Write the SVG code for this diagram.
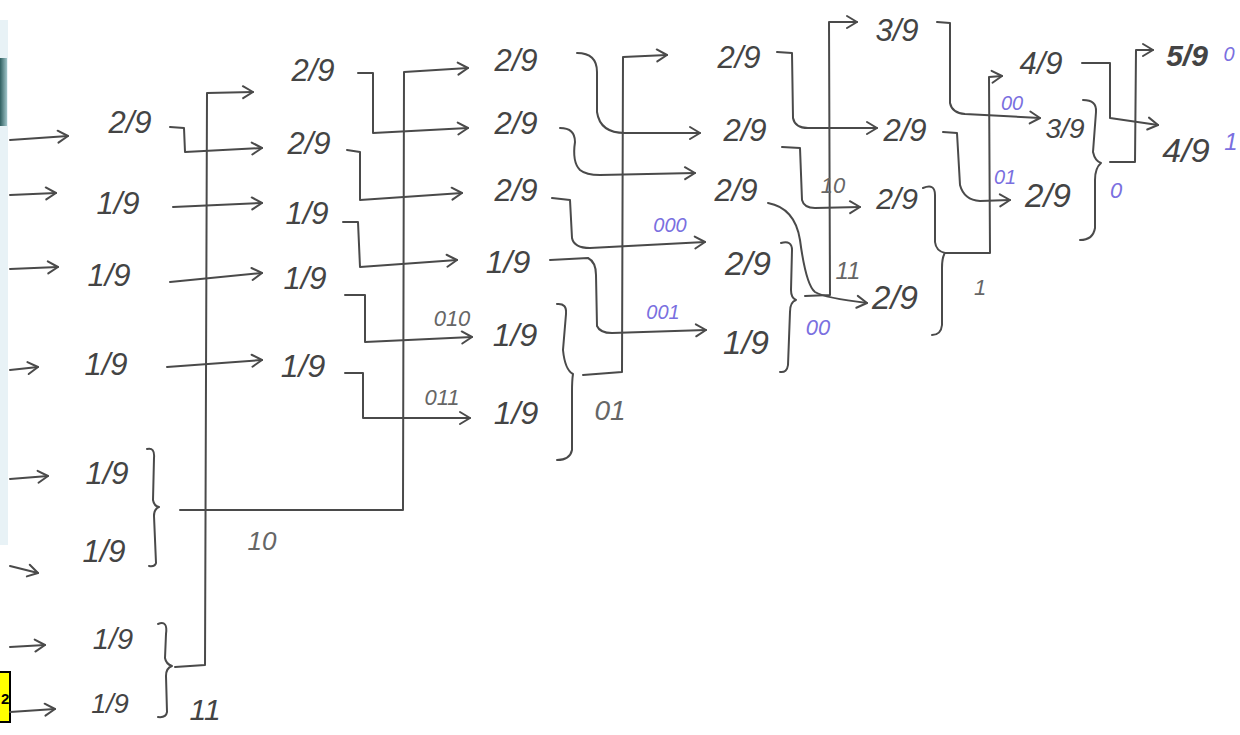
<svg xmlns="http://www.w3.org/2000/svg" width="1240" height="735" viewBox="0 0 1240 735">
<style>
.t{font-family:"Liberation Sans","DejaVu Sans",sans-serif;font-style:italic;fill:#444;text-anchor:middle}
.p{font-family:"Liberation Sans","DejaVu Sans",sans-serif;font-style:italic;fill:#7a6fe0;text-anchor:middle}
.g{font-family:"Liberation Sans","DejaVu Sans",sans-serif;font-style:italic;fill:#666;text-anchor:middle}
.c{fill:none;stroke:#4a4a4a;stroke-width:2;stroke-linejoin:round;stroke-linecap:round}
.a{marker-end:url(#ah)}
</style>
<defs>
<marker id="ah" markerUnits="userSpaceOnUse" markerWidth="16" markerHeight="16" refX="13" refY="8" orient="auto">
<path d="M3,2 L13,8 L3,14" fill="none" stroke="#4a4a4a" stroke-width="2" stroke-linecap="round" stroke-linejoin="round"/>
</marker>
<linearGradient id="edge" x1="0" y1="0" x2="1" y2="0">
<stop offset="0" stop-color="#2f5f60"/>
<stop offset="1" stop-color="#9fc4c8"/>
</linearGradient>
</defs>
<rect width="1240" height="735" fill="#fff"/>
<rect x="0" y="20" width="8" height="525" fill="#e8f2f6"/>
<rect x="0" y="58" width="7" height="68" fill="url(#edge)"/>
<g id="page-tag">
<rect x="-30" y="672" width="40" height="50" fill="#ffff00" stroke="#000" stroke-width="2"/>
<text x="1" y="704" font-family="Liberation Sans,sans-serif" font-size="15" font-weight="bold" fill="#000">2</text>
</g>

<g id="connectors">
<!-- column 0 inputs -->
<path class="c a" d="M10,140 L68,136"/>
<path class="c a" d="M10,195 L56,193"/>
<path class="c a" d="M10,269 L58,267"/>
<path class="c a" d="M10,370 L38,367"/>
<path class="c a" d="M10,479 L48,476"/>
<path class="c a" d="M10,566 L38,573"/>
<path class="c a" d="M10,647 L45,645"/>
<path class="c a" d="M10,712 L55,709"/>
<!-- column 1 -> 2 -->
<path class="c a" d="M170,127 L184,128 L185,152 L262,148"/>
<path class="c a" d="M173,207 L262,203"/>
<path class="c a" d="M170,282 L262,273"/>
<path class="c a" d="M167,367 L262,360"/>
<path class="c a" d="M180,510 L403,510 L404,72 L468,68"/>
<path class="c a" d="M175,667 L205,665 L207,93 L253,92"/>
<!-- column 2 -> 3 -->
<path class="c a" d="M358,73 L373,73 L373,133 L468,128"/>
<path class="c a" d="M347,150 L360,152 L360,200 L462,193"/>
<path class="c a" d="M343,222 L358,222 L360,267 L457,260"/>
<path class="c a" d="M345,295 L365,295 L365,342 L472,337"/>
<path class="c a" d="M345,373 L363,373 L363,418 L470,418"/>
<!-- column 3 -> 4 -->
<path class="c a" d="M577,53 Q597,53 597,72 L597,112 Q600,133 625,133 L700,133"/>
<path class="c a" d="M560,128 Q575,128 575,142 Q572,162 580,170 Q586,175 600,175 L695,173"/>
<path class="c a" d="M552,198 L570,200 L572,238 Q574,248 590,248 L705,242"/>
<path class="c a" d="M550,260 L588,258 Q596,262 596,275 L597,326 Q600,333 612,333 L706,330"/>
<path class="c a" d="M583,375 L622,372 L623,57 L667,55"/>
<!-- column 4 -> 5 -->
<path class="c a" d="M777,52 L792,53 L793,118 Q795,128 808,128 L877,128"/>
<path class="c a" d="M782,147 L800,148 L802,200 Q804,208 815,208 L860,207"/>
<path class="c a" d="M768,203 Q795,208 800,240 Q806,285 815,292 Q825,298 867,303"/>
<path class="c a" d="M805,296 L830,295 L829,22 L857,22"/>
<!-- column 5 -> 6 -->
<path class="c a" d="M937,22 L950,23 L950,103 Q952,113 965,114 L1040,118"/>
<path class="c a" d="M943,132 L957,133 L960,185 Q964,200 980,201 L1010,200"/>
<path class="c a" d="M945,253 L990,253 L989,77 L1002,76"/>
<!-- column 6 -> final -->
<path class="c a" d="M1082,63 L1110,63 L1110,118 L1158,125"/>
<path class="c a" d="M1110,162 L1135,162 L1136,50 L1153,50"/>
<!-- braces -->
<path class="c" d="M147,449 Q155,447 154,458 L153,500 Q154,506 159,507 Q154,509 154,516 L156,563 Q155,567 149,566"/>
<path class="c" d="M158,624 Q168,620 166,634 L165,658 Q166,664 172,666 Q166,668 166,676 L167,712 Q166,718 158,717"/>
<path class="c" d="M557,304 Q567,303 566,314 L563,350 Q565,370 573,374 Q572,380 572,392 L572,450 Q570,460 557,460"/>
<path class="c" d="M781,243 Q792,240 792,250 L791,290 Q791,298 796,300 Q790,302 790,312 L788,365 Q787,373 780,372"/>
<path class="c" d="M923,188 Q935,183 935,195 L935,242 Q936,251 945,253 Q942,257 942,268 L942,325 Q941,335 932,335"/>
<path class="c" d="M1083,100 Q1097,100 1096,112 L1093,152 Q1095,161 1101,163 Q1095,168 1095,180 L1095,228 Q1093,240 1080,240"/>
</g>

<!-- column 1 -->
<g id="n1a"><text class="t" x="130" y="133" font-size="31">2/9</text></g>
<g id="n1b"><text class="t" x="118" y="214" font-size="31">1/9</text></g>
<g id="n1c"><text class="t" x="109" y="286" font-size="31">1/9</text></g>
<g id="n1d"><text class="t" x="106" y="375" font-size="31">1/9</text></g>
<g id="n1e"><text class="t" x="107" y="484" font-size="31">1/9</text></g>
<g id="n1f"><text class="t" x="104" y="562" font-size="31">1/9</text></g>
<g id="n1g"><text class="t" x="113" y="649" font-size="29">1/9</text></g>
<g id="n1h"><text class="t" x="110" y="713" font-size="27">1/9</text></g>
<g id="lbl-10a"><text class="g" x="262" y="550" font-size="26">10</text></g>
<g id="lbl-11a"><text class="t" x="205" y="720" font-size="30">11</text></g>

<!-- column 2 -->
<g id="n2a"><text class="t" x="313" y="81" font-size="31">2/9</text></g>
<g id="n2b"><text class="t" x="309" y="154" font-size="31">2/9</text></g>
<g id="n2c"><text class="t" x="307" y="224" font-size="31">1/9</text></g>
<g id="n2d"><text class="t" x="305" y="289" font-size="31">1/9</text></g>
<g id="n2e"><text class="t" x="303" y="377" font-size="32">1/9</text></g>
<g id="lbl-010"><text class="g" x="452" y="326" font-size="22">010</text></g>
<g id="lbl-011"><text class="g" x="442" y="405" font-size="22">011</text></g>

<!-- column 3 -->
<g id="n3a"><text class="t" x="516" y="71" font-size="31">2/9</text></g>
<g id="n3b"><text class="t" x="516" y="134" font-size="31">2/9</text></g>
<g id="n3c"><text class="t" x="516" y="201" font-size="31">2/9</text></g>
<g id="n3d"><text class="t" x="508" y="273" font-size="32">1/9</text></g>
<g id="n3e"><text class="t" x="515" y="346" font-size="32">1/9</text></g>
<g id="n3f"><text class="t" x="516" y="424" font-size="32">1/9</text></g>
<g id="lbl-01a"><text class="g" x="610" y="420" font-size="28">01</text></g>
<g id="lbl-000"><text class="p" x="670" y="232" font-size="20">000</text></g>
<g id="lbl-001"><text class="p" x="663" y="319" font-size="20">001</text></g>

<!-- column 4 -->
<g id="n4a"><text class="t" x="739" y="68" font-size="31">2/9</text></g>
<g id="n4b"><text class="t" x="745" y="141" font-size="31">2/9</text></g>
<g id="n4c"><text class="t" x="736" y="201" font-size="31">2/9</text></g>
<g id="n4d"><text class="t" x="748" y="275" font-size="33">2/9</text></g>
<g id="n4e"><text class="t" x="746" y="354" font-size="33">1/9</text></g>
<g id="lbl-00a"><text class="p" x="818" y="335" font-size="22">00</text></g>
<g id="lbl-10b"><text class="g" x="833" y="193" font-size="22">10</text></g>
<g id="lbl-11b"><text class="g" x="848" y="279" font-size="24">11</text></g>

<!-- column 5 -->
<g id="n5a"><text class="t" x="897" y="41" font-size="31">3/9</text></g>
<g id="n5b"><text class="t" x="905" y="141" font-size="31">2/9</text></g>
<g id="n5c"><text class="t" x="897" y="209" font-size="30">2/9</text></g>
<g id="n5d"><text class="t" x="895" y="309" font-size="33">2/9</text></g>
<g id="lbl-1a"><text class="g" x="980" y="295" font-size="22">1</text></g>

<!-- column 6 -->
<g id="n6a"><text class="t" x="1041" y="74" font-size="31">4/9</text></g>
<g id="n6b"><text class="t" x="1065" y="138" font-size="28">3/9</text></g>
<g id="n6c"><text class="t" x="1048" y="207" font-size="33">2/9</text></g>
<g id="lbl-00b"><text class="p" x="1012" y="110" font-size="20">00</text></g>
<g id="lbl-01b"><text class="p" x="1005" y="184" font-size="20">01</text></g>
<g id="lbl-0a"><text class="p" x="1116" y="198" font-size="22">0</text></g>

<!-- final -->
<g id="n7a"><text class="t" x="1187" y="66" font-size="30" font-weight="bold">5/9</text><text class="p" x="1229" y="61" font-size="20">0</text></g>
<g id="n7b"><text class="t" x="1186" y="162" font-size="34">4/9</text><text class="p" x="1231" y="150" font-size="24">1</text></g>
</svg>
